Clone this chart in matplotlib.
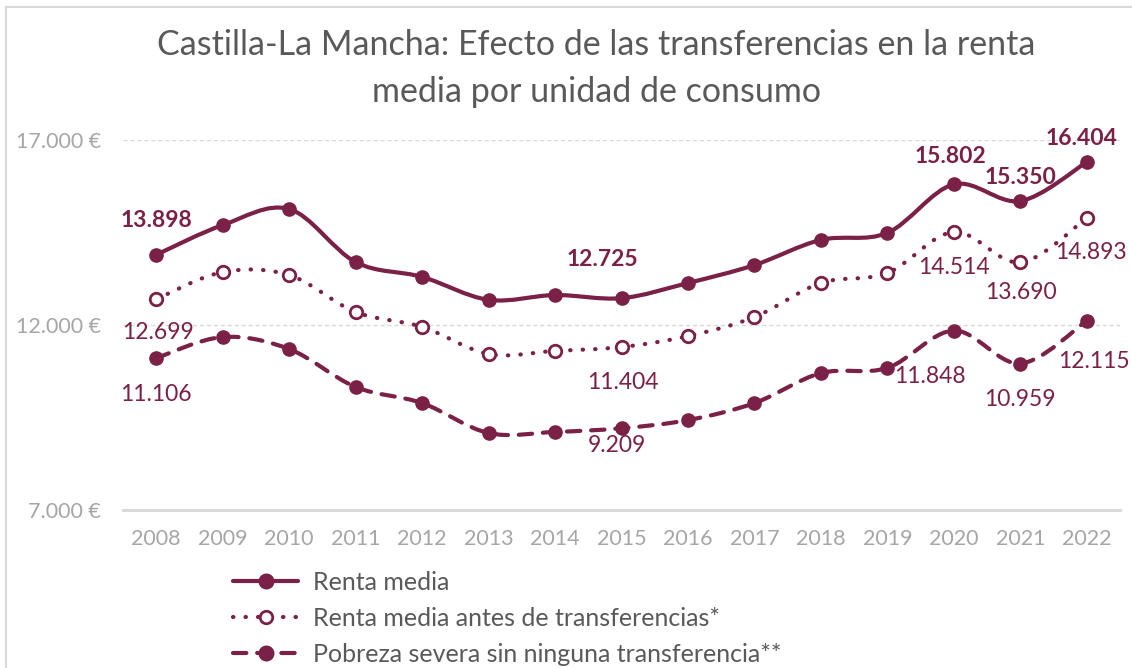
import numpy as np
import matplotlib
matplotlib.use('Agg')
from matplotlib import pyplot as plt
from matplotlib.path import Path
from matplotlib.patches import PathPatch
from matplotlib.lines import Line2D
import matplotlib.ticker as mticker

years = ['2008', '2009', '2010', '2011', '2012', '2013', '2014', '2015',
         '2016', '2017', '2018', '2019', '2020', '2021', '2022']
renta_media = [13898, 14700, 15135, 13700, 13300, 12680, 12810, 12725,
               13135, 13620, 14300, 14490, 15802, 15350, 16404]
renta_antes = [12699, 13430, 13350, 12350, 11950, 11215, 11300, 11404,
               11700, 12215, 13135, 13405, 14514, 13690, 14893]
pobreza_severa = [11106, 11675, 11350, 10325, 9890, 9080, 9110, 9209,
                  9430, 9890, 10700, 10840, 11848, 10959, 12115]

# which points get a value label, per series
labels_media = [0, 7, 12, 13, 14]
labels_antes = [0, 7, 12, 13, 14]
labels_pobreza = [0, 7, 12, 13, 14]

vino = '#7B2046'
gris_txt = '#595959'
gris_eje = '#A6A6A6'

plt.rcParams['font.family'] = ['Lato', 'DejaVu Sans']


def smooth(xs, ys):
    # bezier through each point, tangent from its neighbours (like the office "smoothed line")
    pts = np.column_stack([xs, ys]).astype(float)
    n = len(pts)
    verts = [pts[0]]
    codes = [Path.MOVETO]
    for i in range(n - 1):
        p0 = pts[max(i - 1, 0)]
        p1 = pts[i]
        p2 = pts[i + 1]
        p3 = pts[min(i + 2, n - 1)]
        verts += [p1 + (p2 - p0) / 6.0, p2 - (p3 - p1) / 6.0, p2]
        codes += [Path.CURVE4] * 3
    return Path(verts, codes)


fig = plt.figure(figsize=(11.32, 6.68), dpi=100)
ax = fig.add_axes([123 / 1132, 1 - 510 / 668, (1120 - 123) / 1132, 370 / 668])

x = np.arange(len(years))

estilos = [
    (renta_media, '-', 'o', vino, 'Renta media'),
    (renta_antes, (0, (0.1, 2.9)), 'o', 'white', 'Renta media antes de transferencias*'),
    (pobreza_severa, (0, (3.2, 2.6)), 'o', vino, 'Pobreza severa sin ninguna transferencia**'),
]
handles = []
for vals, ls, mk, fill, nombre in estilos:
    patch = PathPatch(smooth(x, vals), facecolor='none', edgecolor=vino, lw=3.0,
                      linestyle=ls, capstyle='round', joinstyle='round', zorder=3)
    ax.add_patch(patch)
    if fill == 'white':
        ax.plot(x, vals, linestyle='none', marker=mk, markersize=9, markerfacecolor='white',
                markeredgecolor=vino, markeredgewidth=2, zorder=4)
    else:
        ax.plot(x, vals, linestyle='none', marker=mk, markersize=9.5, color=vino, zorder=4)
    h = Line2D([], [], color=vino, lw=3.0, linestyle=ls, marker=mk,
               markersize=9.5 if fill != 'white' else 9, markerfacecolor=fill,
               markeredgecolor=vino, markeredgewidth=2, solid_capstyle='round',
               dash_capstyle='round')
    handles.append((h, nombre))

# value labels, offsets in pixels
off_media = {0: (0, 34), 7: (-19, 39), 12: (-3, 28), 13: (0, 24), 14: (-5, 24)}
off_antes = {0: (2, -33), 7: (1, -35), 12: (0, -36), 13: (1, -30), 14: (4, -35)}
off_pobreza = {0: (0, -36), 7: (-5, -17), 12: (-24, -46), 13: (0, -36), 14: (7, -41)}

for idx in labels_media:
    v = renta_media[idx]
    ax.annotate(f'{v:,}'.replace(',', '.'), (x[idx], v), xytext=off_media[idx],
                textcoords='offset pixels', ha='center', va='center', fontsize=16.5,
                fontweight='bold', color=vino, zorder=5, annotation_clip=False)
for idx in labels_antes:
    v = renta_antes[idx]
    ax.annotate(f'{v:,}'.replace(',', '.'), (x[idx], v), xytext=off_antes[idx],
                textcoords='offset pixels', ha='center', va='center', fontsize=16.5,
                color=vino, zorder=5, annotation_clip=False)
for idx in labels_pobreza:
    v = pobreza_severa[idx]
    ax.annotate(f'{v:,}'.replace(',', '.'), (x[idx], v), xytext=off_pobreza[idx],
                textcoords='offset pixels', ha='center', va='center', fontsize=16.5,
                color=vino, zorder=5, annotation_clip=False)

ax.set_xlim(-0.5, len(years) - 0.5)
ax.set_ylim(7000, 17000)
ax.set_xticks(x)
ax.set_xticklabels(years)
ax.set_yticks([7000, 12000, 17000])
ax.yaxis.set_major_formatter(mticker.FuncFormatter(lambda v, p: f'{int(v):,} €'.replace(',', '.')))
ax.tick_params(axis='both', length=0, labelsize=15.5, labelcolor=gris_eje)
ax.tick_params(axis='x', pad=14)
ax.tick_params(axis='y', pad=16)

for s in ['top', 'right', 'left']:
    ax.spines[s].set_visible(False)
ax.spines['bottom'].set_color('#D9D9D9')
ax.spines['bottom'].set_linewidth(2.2)
ax.yaxis.grid(True, color='#D9D9D9', linestyle=(0, (3, 2)), linewidth=1.0)
ax.set_axisbelow(True)

fig.text(0.527, 1 - 45 / 668, 'Castilla-La Mancha: Efecto de las transferencias en la renta',
         ha='center', va='center', fontsize=24.5, color=gris_txt)
fig.text(0.527, 1 - 92 / 668, 'media por unidad de consumo',
         ha='center', va='center', fontsize=24.5, color=gris_txt)

leg = fig.legend([h for h, n in handles], [n for h, n in handles],
                 loc='upper left', bbox_to_anchor=(233 / 1132, 1 - 571 / 668),
                 frameon=False, fontsize=18, handlelength=2.6, handletextpad=0.6,
                 labelspacing=0.51, borderpad=0, borderaxespad=0)
for t in leg.get_texts():
    t.set_color(gris_txt)

# outer frame (top and left edges)
fig.add_artist(Line2D([6 / 1132, 1.0], [1 - 7 / 668, 1 - 7 / 668], transform=fig.transFigure,
                      color='#D9D9D9', lw=1.5))
fig.add_artist(Line2D([6 / 1132, 6 / 1132], [0, 1 - 7 / 668], transform=fig.transFigure,
                      color='#D9D9D9', lw=1.5))

fig.savefig('out.png', dpi=100)
